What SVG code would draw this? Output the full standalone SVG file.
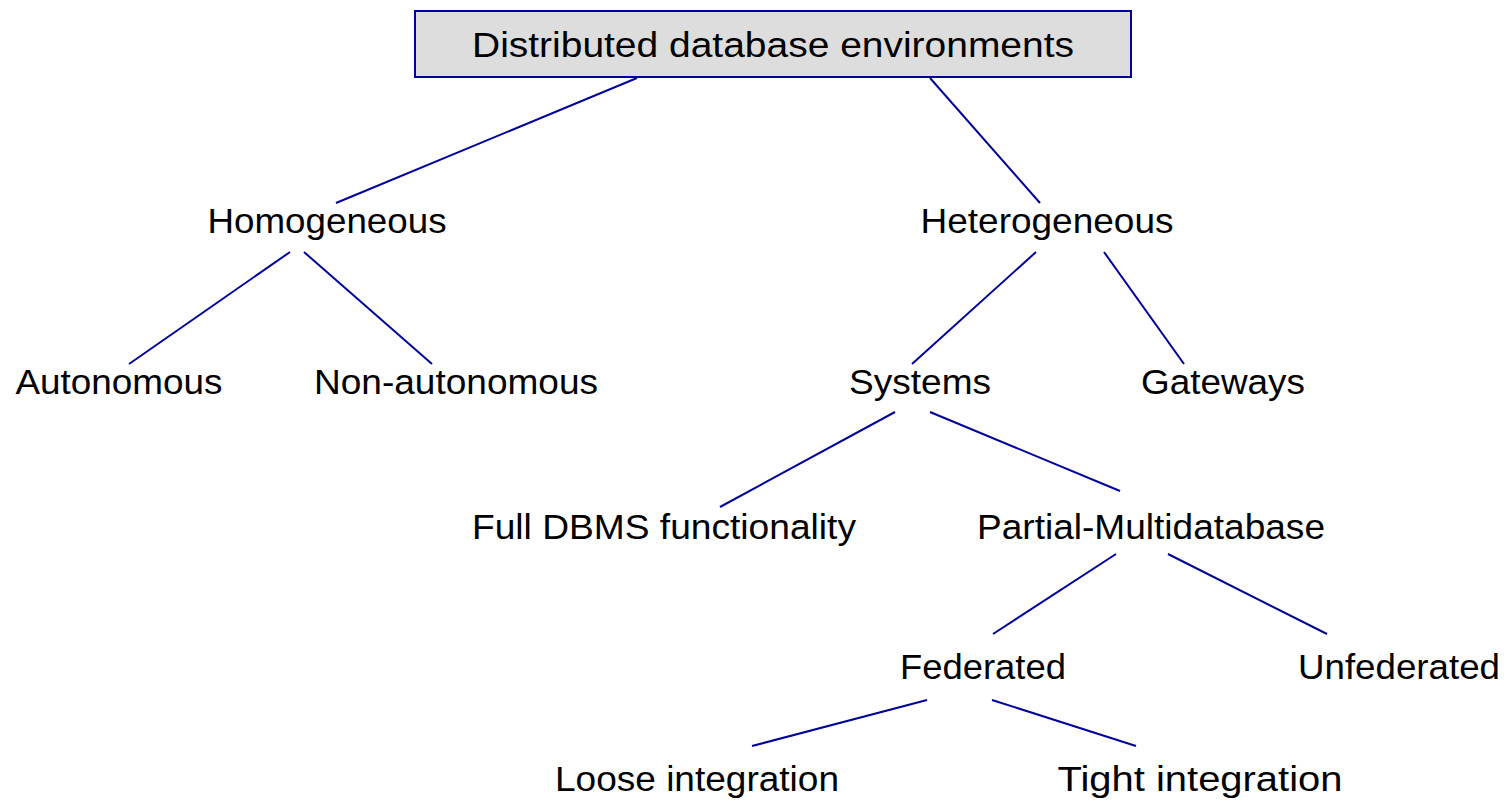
<svg xmlns="http://www.w3.org/2000/svg" width="1508" height="800" viewBox="0 0 1508 800">
<style>
.t{font-family:"Liberation Sans",Arial,sans-serif;font-size:35.5px;fill:#000;text-anchor:middle}
.c line{stroke:#000099;stroke-width:2}
</style>
<rect width="1508" height="800" fill="#fff"/>
<g id="root">
<rect x="415" y="11" width="716" height="66" fill="#dddddd" stroke="#000099" stroke-width="2"/>
<text class="t" x="773" y="57" textLength="602" lengthAdjust="spacingAndGlyphs">Distributed database environments</text>
</g>
<g id="homogeneous"><text class="t" x="327" y="233" textLength="239" lengthAdjust="spacingAndGlyphs">Homogeneous</text></g>
<g id="heterogeneous"><text class="t" x="1047" y="233" textLength="253" lengthAdjust="spacingAndGlyphs">Heterogeneous</text></g>
<g id="autonomous"><text class="t" x="119" y="394" textLength="207" lengthAdjust="spacingAndGlyphs">Autonomous</text></g>
<g id="nonautonomous"><text class="t" x="456" y="394" textLength="284" lengthAdjust="spacingAndGlyphs">Non-autonomous</text></g>
<g id="systems"><text class="t" x="920" y="394" textLength="142" lengthAdjust="spacingAndGlyphs">Systems</text></g>
<g id="gateways"><text class="t" x="1223" y="394" textLength="164" lengthAdjust="spacingAndGlyphs">Gateways</text></g>
<g id="full"><text class="t" x="664" y="539" textLength="384" lengthAdjust="spacingAndGlyphs">Full DBMS functionality</text></g>
<g id="partial"><text class="t" x="1151" y="539" textLength="348" lengthAdjust="spacingAndGlyphs">Partial-Multidatabase</text></g>
<g id="federated"><text class="t" x="983" y="679" textLength="166" lengthAdjust="spacingAndGlyphs">Federated</text></g>
<g id="unfederated"><text class="t" x="1399" y="679" textLength="202" lengthAdjust="spacingAndGlyphs">Unfederated</text></g>
<g id="loose"><text class="t" x="697" y="791" textLength="284" lengthAdjust="spacingAndGlyphs">Loose integration</text></g>
<g id="tight"><text class="t" x="1200" y="791" textLength="285" lengthAdjust="spacingAndGlyphs">Tight integration</text></g>
<g id="connectors" class="c">
<line x1="637" y1="78" x2="336" y2="203"/>
<line x1="930" y1="78" x2="1040" y2="203"/>
<line x1="290" y1="252" x2="129" y2="364"/>
<line x1="304" y1="252" x2="432" y2="364"/>
<line x1="1036" y1="252" x2="912" y2="364"/>
<line x1="1104" y1="252" x2="1184" y2="364"/>
<line x1="895" y1="412" x2="720" y2="507"/>
<line x1="930" y1="412" x2="1120" y2="491"/>
<line x1="1116" y1="554" x2="993" y2="634"/>
<line x1="1168" y1="554" x2="1327" y2="634"/>
<line x1="927" y1="700" x2="752" y2="746"/>
<line x1="992" y1="700" x2="1136" y2="746"/>
</g>
</svg>
